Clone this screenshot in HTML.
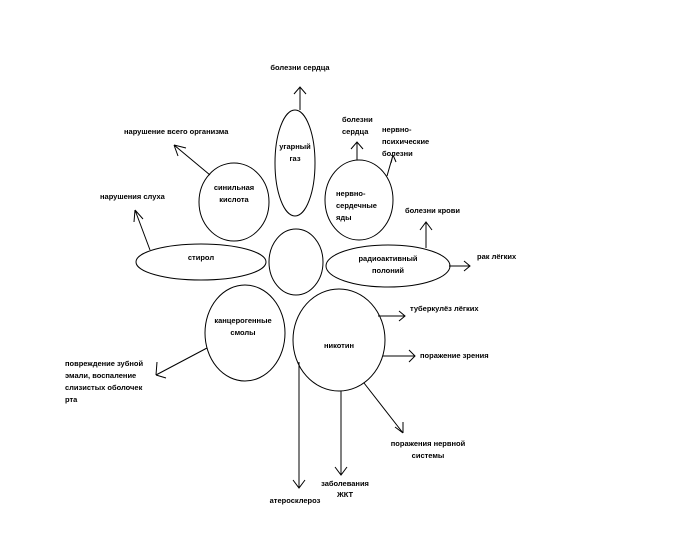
<!DOCTYPE html>
<html><head><meta charset="utf-8"><style>
html,body{margin:0;padding:0;background:#fff;}
svg{display:block;}
text{font-family:"Liberation Sans",sans-serif;font-size:7.5px;font-weight:bold;fill:#000;}
</style></head><body>
<svg width="684" height="555" viewBox="0 0 684 555" xmlns="http://www.w3.org/2000/svg">
<g fill="none" stroke="#000" stroke-width="1">
<ellipse cx="296" cy="262" rx="27" ry="33"/>
<ellipse cx="295" cy="163" rx="20" ry="53"/>
<ellipse cx="234" cy="202" rx="35" ry="39"/>
<ellipse cx="359" cy="200" rx="34" ry="40"/>
<ellipse cx="201" cy="262" rx="65" ry="18"/>
<ellipse cx="388" cy="266" rx="62" ry="21"/>
<ellipse cx="245" cy="333" rx="40" ry="48"/>
<ellipse cx="339" cy="340" rx="46" ry="51"/>
<!-- arrows -->
<path d="M300 110 V87 M294 94 L300 87 L306 94"/>
<path d="M210 175 L174 145 M174 145 L178 156 M174 145 L186 148"/>
<path d="M150 250 L135 210 M135 210 L134 222 M135 210 L143 219"/>
<path d="M357 160 V142 M351 149 L357 142 L363 149"/>
<path d="M387 176 L393 155 M393 155 L391 163 M393 155 L396 162"/>
<path d="M426 248 V222 M420 230 L426 222 L432 230"/>
<path d="M449 266 H470 M464 261 L470 266 L464 271"/>
<path d="M378 316 H405 M399 311 L405 316 L399 321"/>
<path d="M383 356 H415 M409 350 L415 356 L409 362"/>
<path d="M364 383 L403 433 M403 433 L403 422 M403 433 L395 427"/>
<path d="M341 391 V475 M335 467 L341 475 L347 467"/>
<path d="M299 362 V488 M293 480 L299 488 L305 480"/>
<path d="M207 348 L156 375 M156 375 L157 362 M156 375 L166 378"/>
</g>
<text x="300" y="70" text-anchor="middle">болезни сердца</text>
<text x="295" y="149" text-anchor="middle">угарный</text>
<text x="295" y="161" text-anchor="middle">газ</text>
<text x="234" y="190" text-anchor="middle">синильная</text>
<text x="234" y="202" text-anchor="middle">кислота</text>
<text x="336" y="196">нервно-</text>
<text x="336" y="208">сердечные</text>
<text x="336" y="220">яды</text>
<text x="124" y="134">нарушение всего организма</text>
<text x="100" y="199">нарушения слуха</text>
<text x="342" y="122">болезни</text>
<text x="342" y="134">сердца</text>
<text x="382" y="132">нервно-</text>
<text x="382" y="144">психические</text>
<text x="382" y="156">болезни</text>
<text x="405" y="213">болезни крови</text>
<text x="201" y="260" text-anchor="middle">стирол</text>
<text x="388" y="261" text-anchor="middle">радиоактивный</text>
<text x="388" y="273" text-anchor="middle">полоний</text>
<text x="477" y="259">рак лёгких</text>
<text x="243" y="323" text-anchor="middle">канцерогенные</text>
<text x="243" y="335" text-anchor="middle">смолы</text>
<text x="339" y="348" text-anchor="middle">никотин</text>
<text x="410" y="311">туберкулёз лёгких</text>
<text x="420" y="358">поражение зрения</text>
<text x="65" y="366">повреждение зубной</text>
<text x="65" y="378">эмали, воспаление</text>
<text x="65" y="390">слизистых оболочек</text>
<text x="65" y="402">рта</text>
<text x="428" y="446" text-anchor="middle">поражения нервной</text>
<text x="428" y="458" text-anchor="middle">системы</text>
<text x="345" y="486" text-anchor="middle">заболевания</text>
<text x="345" y="497" text-anchor="middle">ЖКТ</text>
<text x="295" y="503" text-anchor="middle">атеросклероз</text>
</svg>
</body></html>
